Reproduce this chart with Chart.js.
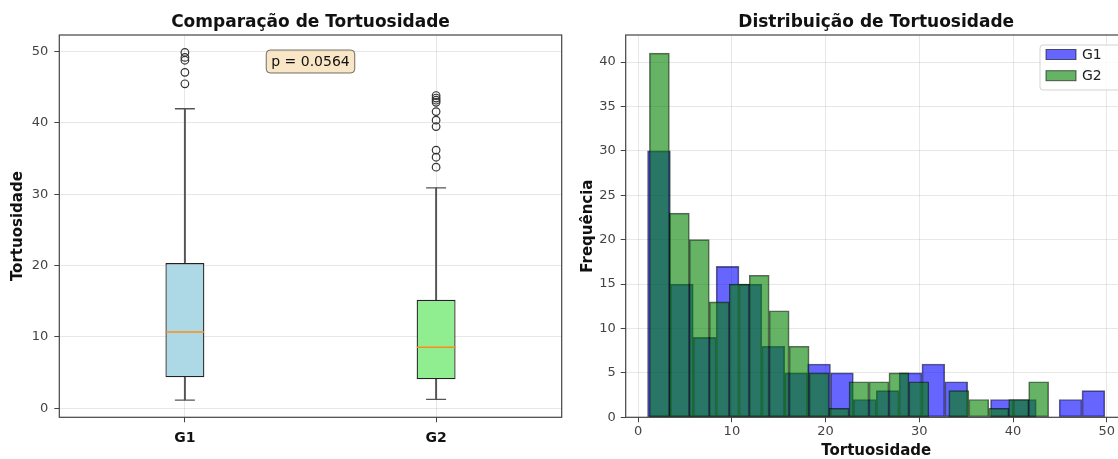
<!DOCTYPE html>
<html>
<head>
<meta charset="utf-8">
<script src="https://cdn.jsdelivr.net/npm/chart.js@4.4.1/dist/chart.umd.min.js"></script>
<style>
  html, body { margin: 0; padding: 0; background: #fff; overflow: hidden; }
  body { width: 1118px; height: 459px; position: relative; }
  #boxChart { position: absolute; left: 0; top: 0; }
  #histChart { position: absolute; left: 575px; top: 0; }
</style>
</head>
<body>
<canvas id="boxChart" width="575" height="459"></canvas>
<canvas id="histChart" width="565" height="459"></canvas>
<script>
// --- dados do boxplot ---
const groups = ['G1', 'G2'];
const boxLow = [1.15, 1.25];
const boxQ1 = [4.35, 4.05];
const boxMedian = [10.7, 8.55];
const boxQ3 = [20.35, 15.2];
const boxHigh = [42.0, 30.9];
const g1Outliers = [45.5, 47.1, 48.8, 49.2, 49.9];
const g2Outliers = [33.8, 35.2, 36.2, 39.5, 40.4, 41.6, 42.9, 43.2, 43.5, 43.85];
const boxTicks = [0, 10, 20, 30, 40, 50];
const pValue = 'p = 0.0564';

// --- dados do histograma ---
const g1BinCenters = [2.22, 4.66, 7.10, 9.54, 11.98, 14.42, 16.86, 19.30, 21.74, 24.18,
                      26.62, 29.06, 31.50, 33.94, 36.38, 38.82, 41.26, 43.70, 46.14, 48.58];
const g1Counts = [30, 15, 9, 17, 15, 8, 5, 6, 5, 2, 3, 5, 6, 4, 0, 2, 2, 0, 2, 3];
const g2BinCenters = [2.265, 4.395, 6.525, 8.655, 10.785, 12.915, 15.045, 17.175, 19.305, 21.435,
                      23.565, 25.695, 27.825, 29.955, 32.085, 34.215, 36.345, 38.475, 40.605, 42.735];
const g2Counts = [41, 23, 20, 13, 15, 16, 12, 8, 5, 1, 4, 4, 5, 4, 0, 3, 2, 1, 2, 4];
const histXTicks = [0, 10, 20, 30, 40, 50];
const histYTicks = [0, 5, 10, 15, 20, 25, 30, 35, 40];

Chart.defaults.font.family = "'DejaVu Sans', sans-serif";
Chart.defaults.animation = false;

const gridColor = 'rgba(176, 176, 176, 0.3)';
const axisColor = '#444';
const tickFont = { size: 13 };
const titleFont = { size: 15, weight: 'bold' };

// moldura completa em volta da área do gráfico
const framePlugin = {
    id: 'frame',
    afterDraw(chart) {
        const { ctx, chartArea: a } = chart;
        ctx.save();
        ctx.strokeStyle = axisColor;
        ctx.lineWidth = 1.2;
        ctx.strokeRect(a.left, a.top, a.right - a.left, a.bottom - a.top);
        ctx.restore();
    }
};

const pLabelPlugin = {
    id: 'pLabel',
    afterDraw(chart) {
        const { ctx, chartArea: a } = chart;
        const cx = (a.left + a.right) / 2;
        ctx.save();
        ctx.font = "14px 'DejaVu Sans'";
        const w = ctx.measureText(pValue).width + 10;
        const h = 23;
        const y = a.top + 15;
        ctx.beginPath();
        ctx.roundRect(cx - w / 2, y, w, h, 4);
        ctx.fillStyle = 'rgba(245, 222, 179, 0.75)';
        ctx.fill();
        ctx.strokeStyle = 'rgba(0, 0, 0, 0.55)';
        ctx.lineWidth = 1;
        ctx.stroke();
        ctx.fillStyle = '#111';
        ctx.textAlign = 'center';
        ctx.textBaseline = 'middle';
        ctx.fillText(pValue, cx, y + h / 2 + 0.5);
        ctx.restore();
    }
};

const histLegendPlugin = {
    id: 'histLegend',
    afterDraw(chart) {
        const { ctx, chartArea: a } = chart;
        const left = a.right - 86.7;
        const top = a.top + 10;
        ctx.save();
        ctx.beginPath();
        ctx.roundRect(left, top, 84, 45, 3);
        ctx.fillStyle = 'rgba(255, 255, 255, 0.8)';
        ctx.fill();
        ctx.strokeStyle = '#d3d3d3';
        ctx.lineWidth = 1;
        ctx.stroke();
        ctx.font = "14px 'DejaVu Sans'";
        ctx.textBaseline = 'middle';
        ctx.textAlign = 'left';
        chart.data.datasets.forEach((ds, i) => {
            const cy = top + 9.5 + i * 21.2;
            ctx.fillStyle = ds.backgroundColor;
            ctx.fillRect(left + 6, cy - 5, 30, 10);
            ctx.strokeStyle = ds.borderColor;
            ctx.strokeRect(left + 6, cy - 5, 30, 10);
            ctx.fillStyle = '#222';
            ctx.fillText(ds.label, left + 42, cy + 0.5);
        });
        ctx.restore();
    }
};

// --- boxplot (Comparação) ---
const outlierPoints = g1Outliers.map(v => ({ x: 'G1', y: v }))
    .concat(g2Outliers.map(v => ({ x: 'G2', y: v })));

new Chart(document.getElementById('boxChart'), {
    type: 'bar',
    data: {
        labels: groups,
        datasets: [
            {
                type: 'line', label: 'outliers', data: outlierPoints, showLine: false,
                pointStyle: 'circle', pointRadius: 3.8, pointBackgroundColor: 'rgba(0,0,0,0)',
                pointBorderColor: '#333', pointBorderWidth: 1.2, order: 0
            },
            {
                type: 'line', label: 'mediana', data: boxMedian, showLine: false,
                pointStyle: 'line', pointRadius: 19.3, pointBorderColor: '#ff8c1a',
                pointBorderWidth: 1.5, order: 1
            },
            {
                type: 'line', label: 'min', data: boxLow, showLine: false,
                pointStyle: 'line', pointRadius: 10, pointBorderColor: '#555',
                pointBorderWidth: 1.3, order: 2
            },
            {
                type: 'line', label: 'max', data: boxHigh, showLine: false,
                pointStyle: 'line', pointRadius: 10, pointBorderColor: '#555',
                pointBorderWidth: 1.3, order: 2
            },
            {
                label: 'caixa', data: groups.map((g, i) => [boxQ1[i], boxQ3[i]]),
                backgroundColor: ['#add8e6', '#90ee90'], borderColor: '#222', borderWidth: 1.3,
                borderSkipped: false, grouped: false, categoryPercentage: 1, barPercentage: 0.155, order: 3
            },
            {
                label: 'bigode inf', data: groups.map((g, i) => [boxLow[i], boxQ1[i]]),
                backgroundColor: '#555', borderWidth: 0, grouped: false,
                categoryPercentage: 1, barPercentage: 1, maxBarThickness: 1.3, order: 4
            },
            {
                label: 'bigode sup', data: groups.map((g, i) => [boxQ3[i], boxHigh[i]]),
                backgroundColor: '#555', borderWidth: 0, grouped: false,
                categoryPercentage: 1, barPercentage: 1, maxBarThickness: 1.3, order: 4
            }
        ]
    },
    options: {
        responsive: false,
        events: [],
        layout: { autoPadding: false, padding: { left: 0, right: 13.3, top: 0, bottom: 0 } },
        plugins: {
            legend: { display: false },
            tooltip: { enabled: false },
            title: {
                display: true, text: 'Comparação de Tortuosidade', fullSize: false, color: '#111',
                font: { size: 17, weight: 'bold' }, padding: { top: 12, bottom: 2.6 }
            }
        },
        scales: {
            x: {
                offset: true,
                grid: { offset: false, color: gridColor, tickColor: axisColor, tickLength: 5 },
                border: { display: false },
                ticks: { color: '#111', font: { size: 14, weight: 'bold' }, padding: 8 },
                afterFit: s => { s.height = 41.7; }
            },
            y: {
                min: -1.27, max: 52.34,
                afterBuildTicks: axis => { axis.ticks = boxTicks.map(v => ({ value: v })); },
                grid: { color: gridColor, tickColor: axisColor, tickLength: 5 },
                border: { display: false },
                ticks: { color: axisColor, font: tickFont, padding: 6 },
                title: { display: true, text: 'Tortuosidade', color: '#111', font: titleFont, padding: { top: 9, bottom: 0 } },
                afterFit: s => { s.width = 59.3; }
            }
        }
    },
    plugins: [framePlugin, pLabelPlugin]
});

// --- histograma (Distribuição) ---
new Chart(document.getElementById('histChart'), {
    type: 'bar',
    data: {
        datasets: [
            {
                label: 'G1', data: g1BinCenters.map((c, i) => ({ x: c, y: g1Counts[i] })), xAxisID: 'x',
                backgroundColor: 'rgba(0, 0, 255, 0.6)', borderColor: 'rgba(0, 0, 0, 0.6)', borderWidth: 1,
                borderSkipped: false, grouped: false, categoryPercentage: 1, barPercentage: 1, order: 2
            },
            {
                label: 'G2', data: g2BinCenters.map((c, i) => ({ x: c, y: g2Counts[i] })), xAxisID: 'x2',
                backgroundColor: 'rgba(0, 128, 0, 0.6)', borderColor: 'rgba(0, 0, 0, 0.6)', borderWidth: 1,
                borderSkipped: false, grouped: false, categoryPercentage: 1, barPercentage: 1, order: 1
            }
        ]
    },
    options: {
        responsive: false,
        events: [],
        layout: { autoPadding: false, padding: { left: 0, right: 13.3, top: 0, bottom: 0 } },
        plugins: {
            legend: { display: false },
            tooltip: { enabled: false },
            title: {
                display: true, text: 'Distribuição de Tortuosidade', fullSize: false, color: '#111',
                font: { size: 17, weight: 'bold' }, padding: { top: 12, bottom: 2.6 }
            }
        },
        scales: {
            x: {
                type: 'linear', min: -1.33, max: 52.13, offset: false,
                afterBuildTicks: axis => { axis.ticks = histXTicks.map(v => ({ value: v })); },
                grid: { offset: false, color: gridColor, tickColor: axisColor, tickLength: 5 },
                border: { display: false },
                ticks: { color: axisColor, font: tickFont, padding: 2 },
                title: { display: true, text: 'Tortuosidade', color: '#111', font: { size: 15, weight: 'bold', lineHeight: 1 }, padding: { top: 0, bottom: 0 } },
                afterFit: s => { s.height = 41.7; }
            },
            x2: { type: 'linear', min: -1.33, max: 52.13, offset: false, display: false, grid: { offset: false } },
            y: {
                min: 0, max: 43.05,
                afterBuildTicks: axis => { axis.ticks = histYTicks.map(v => ({ value: v })); },
                grid: { color: gridColor, tickColor: axisColor, tickLength: 5 },
                border: { display: false },
                ticks: { color: axisColor, font: tickFont, padding: 5 },
                title: { display: true, text: 'Frequência', color: '#111', font: titleFont, padding: { top: 4, bottom: 0 } },
                afterFit: s => { s.width = 50.7; }
            }
        }
    },
    plugins: [framePlugin, histLegendPlugin]
});
</script>
</body>
</html>
